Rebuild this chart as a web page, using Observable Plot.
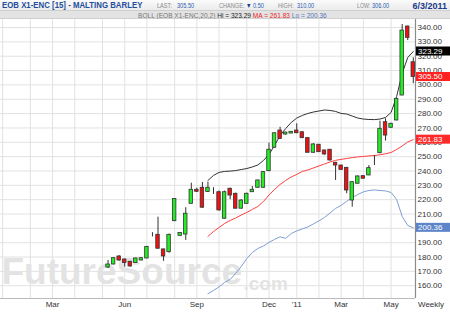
<!DOCTYPE html>
<html><head><meta charset="utf-8">
<script src="https://cdn.jsdelivr.net/npm/d3@7"></script>
<script src="https://cdn.jsdelivr.net/npm/@observablehq/plot@0.6"></script>
<style>
body{margin:0;width:450px;height:313px;overflow:hidden;font-family:"Liberation Sans",Arial,sans-serif;background:#fff}
#hdr{position:relative;height:19px;width:450px;overflow:hidden}
#r1{position:absolute;left:0;top:0;width:450px;height:10px;background:linear-gradient(#fbfbfb,#ebebeb)}
#r2{position:absolute;left:0;top:10px;width:450px;height:7px;background:#e3e3e3;border-top:1px solid #cfcfcf;border-bottom:1px solid #cfcfcf}
.t{position:absolute;white-space:nowrap;line-height:1;transform-origin:left center}
.s{font-size:7px;top:2px;transform:scaleX(0.8)}
.g{color:#8a8a8a}
.b{color:#2a5db0}
</style></head><body>
<div id="hdr">
  <div id="r1"></div><div id="r2"></div>
  <span class="t" style="left:2px;top:1px;font-size:9px;font-weight:bold;color:#1f4e9c;transform:scaleX(0.87)">EOB X1-ENC [15] - MALTING BARLEY</span>
  <span class="t s g" style="left:157px">LAST:</span>
  <span class="t s b" style="left:177px">305.50</span>
  <span class="t s g" style="left:219px">CHANGE:</span>
  <span class="t s" style="left:246px;color:#1a3a8a">&#9660;</span>
  <span class="t s b" style="left:253px">0.50</span>
  <span class="t s g" style="left:278px">HIGH:</span>
  <span class="t s b" style="left:297px">310.00</span>
  <span class="t s g" style="left:357px;transform:scaleX(0.75)">LOW:</span>
  <span class="t s b" style="left:372px">306.00</span>
  <span class="t" style="right:3px;top:1.5px;font-size:9px;font-weight:bold;color:#1a3a8a">6/3/2011</span>
  <span class="t" style="right:123px;top:11.5px;font-size:7px;transform-origin:right center;transform:scaleX(0.94);color:#777">BOLL (EOB X1-ENC,20,2) <span style="color:#222">Hi = 323.29</span> <span style="color:#ee2222">MA = 261.83</span> <span style="color:#5577bb">Lo = 200.36</span></span>
</div>
<div id="chart"></div>
<script>
// Weekly candle dates (Fridays)
const weeks = ["2010-05-07","2010-05-14","2010-05-21","2010-05-28","2010-06-04","2010-06-11","2010-06-18","2010-06-25",
"2010-07-02","2010-07-09","2010-07-16","2010-07-23","2010-07-30","2010-08-06","2010-08-13","2010-08-20","2010-08-27",
"2010-09-03","2010-09-10","2010-09-17","2010-09-24","2010-10-01","2010-10-08","2010-10-15","2010-10-22","2010-10-29",
"2010-11-05","2010-11-12","2010-11-19","2010-11-26","2010-12-03","2010-12-10","2010-12-17","2010-12-24","2010-12-31",
"2011-01-07","2011-01-14","2011-01-21","2011-01-28","2011-02-04","2011-02-11","2011-02-18","2011-02-25",
"2011-03-04","2011-03-11","2011-03-18","2011-03-25","2011-04-01","2011-04-08","2011-04-15","2011-04-22","2011-04-29",
"2011-05-06","2011-05-13","2011-05-20","2011-05-27","2011-06-03"];
const open  = [165.1,172.7,174.8,180.4,178.3,176.7,175.8,177.6,179.0,195.7,195.5,185.3,183.4,205.0,194.8,195.7,217.1,226.9,228.3,225.4,
228.3,225.2,206.7,227.6,224.1,213.7,217.1,225.2,228.3,228.3,239.9,256.2,268.2,265.4,266.1,268.2,267.0,262.9,252.7,258.3,
254.3,254.8,245.7,243.8,242.2,219.4,231.1,236.4,236.9,247.3,252.4,274.0,270.1,275.2,292.6,340.7,315.8];
const high  = [165.1,177.6,179.5,181.0,178.5,177.0,179.3,179.5,187.5,197.0,207.8,185.6,196.0,220.8,197.0,214.4,231.5,228.0,232.0,232.2,
228.3,226.0,226.0,228.0,224.5,220.0,224.5,229.2,233.6,239.5,259.4,266.5,270.5,267.0,267.5,272.9,267.3,263.0,259.0,258.5,
254.5,255.0,246.0,244.0,242.5,232.5,236.5,236.8,243.8,250.8,274.7,276.4,273.3,290.6,342.1,341.0,318.9];
const low   = [165.1,172.0,174.5,177.0,173.0,173.0,175.5,177.3,178.8,194.0,185.5,177.0,182.7,204.7,194.5,191.6,217.0,225.0,214.0,225.0,
223.6,212.0,206.5,220.0,213.5,213.5,217.0,225.0,228.0,228.0,239.5,256.0,262.0,265.0,266.0,266.0,262.5,252.5,252.5,253.0,
251.0,247.0,233.4,240.5,224.1,214.8,231.0,234.3,236.7,243.8,252.0,260.8,270.0,275.0,292.5,330.9,300.8];
const close = [165.1,174.8,179.2,177.6,175.8,173.4,179.0,179.2,187.0,195.7,185.8,180.4,195.5,220.4,196.7,210.2,226.9,225.5,214.4,228.3,
228.3,212.5,225.2,222.9,213.7,219.4,224.1,226.9,233.4,239.2,254.8,266.3,262.4,266.8,267.3,266.3,262.9,252.7,258.5,253.1,
251.5,247.3,243.8,240.8,226.4,232.2,236.2,234.6,242.0,247.3,269.4,264.7,272.9,290.3,337.9,332.8,305.5];
// Bollinger (20,2) from week index 19 onward
const bandStart = 19;
const upper = [233.4,236.9,239.0,239.7,239.9,240.3,241.0,241.7,242.8,244.2,247.3,251.5,257.8,264.7,269.6,273.8,276.9,278.7,280.1,
281.1,281.8,282.5,282.2,281.5,280.1,279.7,278.3,276.9,276.2,275.9,275.8,276.2,277.3,280.8,291.9,308.0,319.1,323.29];
const ma    = [194.4,197.8,200.6,203.4,205.5,207.2,209.3,211.1,213.2,215.3,218.7,223.3,227.1,230.6,233.4,235.8,237.6,239.7,240.7,
242.1,243.5,244.9,246.3,247.4,248.1,248.7,249.3,249.8,250.1,250.5,250.8,251.3,252.0,252.9,255.0,257.4,260.2,261.83];
const lower = [154.4,156.7,159.2,162.3,164.4,168.6,173.4,179.0,183.2,186.0,187.7,190.2,192.3,194.1,193.0,196.4,198.2,199.6,201.0,
203.1,205.2,207.6,210.7,213.9,216.0,218.9,221.5,223.6,225.4,226.4,226.8,226.4,226.1,225.0,220.1,208.3,202.0,200.36];
// Axis
const monthGrid = ["2010-01-01","2010-02-05","2010-03-05","2010-04-02","2010-05-07","2010-06-04","2010-07-02","2010-08-06",
"2010-09-03","2010-10-01","2010-11-05","2010-12-03","2011-01-07","2011-02-04","2011-03-04","2011-04-01","2011-05-06"];
const xTickDates = ["2010-03-05","2010-06-04","2010-09-03","2010-12-03","2011-01-07","2011-03-04","2011-05-06"];
const xTickLabels = ["Mar","Jun","Sep","Dec","'11","Mar","May"];
const yTicks = [160,170,180,190,200,210,220,230,240,250,260,270,280,290,300,310,320,330,340];
const xDomain = [new Date("2009-12-29T08:00Z"), new Date("2011-06-05T19:00Z")];
const yDomain = [151.1, 345.6];
const lastBoxes = [
  {value: 323.29, label: "323.29", color: "#000000"},
  {value: 305.50, label: "305.50", color: "#ff2222"},
  {value: 261.83, label: "261.83", color: "#ff2a2a"},
  {value: 200.36, label: "200.36", color: "#5d84c8"}
];

const parse = s => new Date(s + "T00:00Z");
const candles = weeks.map((w, i) => ({date: parse(w), open: open[i], high: high[i], low: low[i], close: close[i]}));
const bands = upper.map((u, i) => ({date: parse(weeks[i + bandStart]), upper: u, ma: ma[i], lower: lower[i]}));
const tickMap = new Map(xTickDates.map((d, i) => [+parse(d), xTickLabels[i]]));
const halfW = 2.2 * 24 * 3600 * 1000;

const chart = Plot.plot({
  width: 450, height: 294,
  marginTop: 0, marginBottom: 15, marginLeft: 0, marginRight: 35,
  style: {fontFamily: '"Liberation Sans", Arial, sans-serif', fontSize: "8px", color: "#333", background: "transparent"},
  x: {type: "utc", domain: xDomain, ticks: xTickDates.map(parse), tickFormat: d => tickMap.get(+d), tickSize: 0, tickPadding: 3, label: null},
  y: {domain: yDomain, axis: "right", ticks: yTicks, tickFormat: d3.format(".2f"), tickSize: 0, tickPadding: 2, label: null},
  marks: [
    Plot.ruleX(monthGrid.map(parse), {stroke: "#e2e2e2", strokeWidth: 1}),
    Plot.ruleY(yTicks, {stroke: "#e2e2e2", strokeWidth: 1}),
    Plot.text(["FutureSource"], {frameAnchor: "bottom-left", textAnchor: "start", dx: 1, dy: -15, fontSize: 37, fontWeight: "bold", fill: "#e3e3e3"}),
    Plot.text([".com"], {frameAnchor: "bottom-left", textAnchor: "start", dx: 243, dy: -9, fontSize: 19, fontWeight: "bold", fill: "#e3e3e3"}),
    Plot.ruleY([yDomain[0]], {stroke: "#bbbbbb"}),
    Plot.ruleX([xDomain[1]], {stroke: "#8a8a8a", strokeWidth: 1.2}),
    Plot.line(bands, {x: "date", y: "lower", stroke: "#7f9fd3", strokeWidth: 1}),
    Plot.line(bands, {x: "date", y: "ma", stroke: "#ff4040", strokeWidth: 1}),
    Plot.line(bands, {x: "date", y: "upper", stroke: "#333333", strokeWidth: 1}),
    Plot.ruleX(candles, {x: "date", y1: "low", y2: "high", stroke: "#333", strokeWidth: 1}),
    Plot.rect(candles, {
      x1: d => new Date(+d.date - halfW), x2: d => new Date(+d.date + halfW),
      y1: "open", y2: "close",
      fill: d => d.close > d.open ? "#22ee22" : "#ee1111",
      stroke: "#333", strokeWidth: 0.8
    })
  ]
});
document.getElementById("chart").appendChild(chart);

// Last-value boxes on the right axis, positioned with the plot's y scale
const ys = chart.scale("y");
const svg = d3.select(chart);
const g = svg.append("g").attr("text-anchor", "start");
lastBoxes.forEach(b => {
  const yy = ys.apply(b.value);
  g.append("rect").attr("x", 416).attr("y", yy - 4.5).attr("width", 34).attr("height", 9).attr("fill", b.color);
  g.append("text").attr("x", 418).attr("y", yy).attr("dy", "0.32em").attr("fill", "#fff")
    .attr("text-anchor", "start").attr("font-size", 8).text(b.label);
});
g.append("text").attr("x", 418).attr("y", 279 + 3).attr("dy", "0.71em").attr("fill", "#333")
  .attr("text-anchor", "start").attr("font-size", 8).text("Weekly");
</script>
</body></html>
